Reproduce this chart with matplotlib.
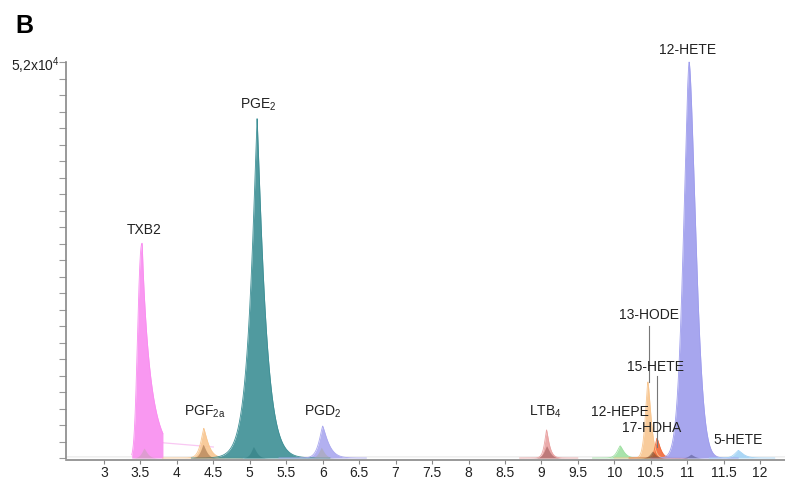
import numpy as np
import matplotlib
matplotlib.use("Agg")
import matplotlib.pyplot as plt

plt.rcParams['font.family'] = ['Liberation Sans', 'DejaVu Sans']
plt.rcParams['mathtext.default'] = 'regular'

# peak table (retention time in min, height in counts)
names = ['TXB2', 'PGF$_{2a}$', 'PGE$_2$', 'PGD$_2$', 'LTB$_4$', '12-HEPE',
         '13-HODE', '15-HETE', '12-HETE', '5-HETE']
rt = [3.525, 4.37, 5.10, 6.00, 9.07, 10.08, 10.46, 10.585, 11.025, 11.70]
height = [28200, 3900, 44600, 4200, 3700, 1600, 10000, 2600, 52000, 1000]
w_left = [0.081, 0.06, 0.12, 0.07, 0.04, 0.06, 0.05, 0.04, 0.11, 0.07]
w_right = [0.12, 0.08, 0.13, 0.10, 0.05, 0.07, 0.06, 0.06, 0.13, 0.09]
p_left = [2.5, 1.3, 1.15, 1.3, 1.3, 1.4, 1.5, 1.4, 1.6, 1.4]
p_right = [0.9, 1.2, 1.15, 1.2, 1.2, 1.3, 1.4, 1.3, 1.6, 1.3]
win_start = [3.38, 3.8, 4.2, 5.4, 8.7, 9.7, 10.0, 10.2, 10.5, 11.3]
win_end = [3.81, 4.9, 6.1, 6.6, 9.5, 10.5, 10.9, 11.0, 11.7, 12.2]
colors = ['#f98df0', '#f8c690', '#3d8f95', '#aaa8ef', '#e9a2a2', '#9fe0a2',
          '#f8c690', '#f26b3a', '#9e9ded', '#a2d3f5']

# label placement (minutes, counts)
lab_x = [3.55, 4.385, 5.11, 6.0, 9.05, 10.07, 10.48, 10.57, 11.01, 11.70]
lab_y = [29900, 6040, 46350, 6040, 6040, 6040, 18840, 11950, 53580, 2360]

# smaller co-eluting traces drawn inside the big ones
inner_rt = [3.55, 4.36, 5.05, 5.98, 9.07, 10.52, 11.05]
inner_height = [1300, 1800, 1500, 1400, 1600, 900, 500]
inner_colors = ['#c9a0b8', '#9a6a40', '#2f7c80', '#a8a8a8', '#9a5353', '#6b4a30', '#55558a']

xticks = np.arange(3, 12.01, 0.5)
xticklabels = ['%g' % t for t in xticks]


def peak(x, c, h, wl, wr, pl, pr):
    left = x < c
    w = np.where(left, wl, wr)
    p = np.where(left, pl, pr)
    return h * np.exp(-(np.abs(x - c) / w) ** p)


fig = plt.figure(figsize=(7.85, 4.8), dpi=100)
ax = fig.add_axes([66 / 785, 20 / 480, 1 - 66 / 785, 420 / 480])

x = np.linspace(2.5, 12.4, 8000)

# faint baseline
ax.plot(x, np.full_like(x, 150), color='#e8e8e8', lw=0.8, zorder=1)

for i in range(len(names)):
    m = (x >= win_start[i]) & (x <= win_end[i])
    y = peak(x[m], rt[i], height[i], w_left[i], w_right[i], p_left[i], p_right[i])
    ax.fill_between(x[m], 0, y, color=colors[i], alpha=0.9, lw=0,
                    zorder=2 + (i in (2, 8)))
    ax.plot(x[m], y, color=colors[i], lw=0.6, zorder=3)

for c, h, col in zip(inner_rt, inner_height, inner_colors):
    m = (x > c - 0.3) & (x < c + 0.3)
    y = peak(x[m], c, h, 0.05, 0.06, 1.3, 1.3)
    ax.fill_between(x[m], 0, y, color=col, alpha=0.55, lw=0, zorder=4)

# faint pink tail after TXB2
ax.plot([3.81, 4.5], [2000, 1450], color='#f9c8f3', lw=0.9, zorder=1)

for n, lx, ly in zip(names, lab_x, lab_y):
    ax.text(lx, ly, n, ha='center', va='center', fontsize=10,
            color='#222222', zorder=6)
ax.text(10.51, 3940, '17-HDHA', ha='center', va='center', fontsize=10,
        color='#222222', zorder=6)

# leader lines
ax.plot([10.47, 10.47], [17300, 10000], color='#777777', lw=0.8, zorder=5)
ax.plot([10.585, 10.585], [10800, 1400], color='#777777', lw=0.8, zorder=5)

ax.set_xlim(2.48, 12.34)
ax.set_ylim(-260, 54890)

for s in ['top', 'right']:
    ax.spines[s].set_visible(False)
ax.spines['left'].set_bounds(0, 52000)
ax.spines['left'].set_color('#888888')
ax.spines['bottom'].set_color('#888888')
ax.spines['left'].set_linewidth(1.2)
ax.spines['bottom'].set_linewidth(1.2)

ax.set_xticks(xticks)
ax.set_xticklabels(xticklabels, fontsize=10, color='#222222')
ax.set_yticks(np.linspace(0, 52000, 25))
ax.set_yticklabels([])
ax.tick_params(axis='x', length=3, color='#888888', pad=1)
ax.tick_params(axis='y', length=5, color='#999999', width=0.8)

ax.text(-0.008, 51500, '5,2x10$^4$', transform=ax.get_yaxis_transform(),
        ha='right', va='center', fontsize=10, color='#222222')
fig.text(24 / 785, 1 - 26 / 480, 'B', fontsize=18, fontweight='bold',
         ha='center', va='center')

fig.savefig('out.png', dpi=100)
